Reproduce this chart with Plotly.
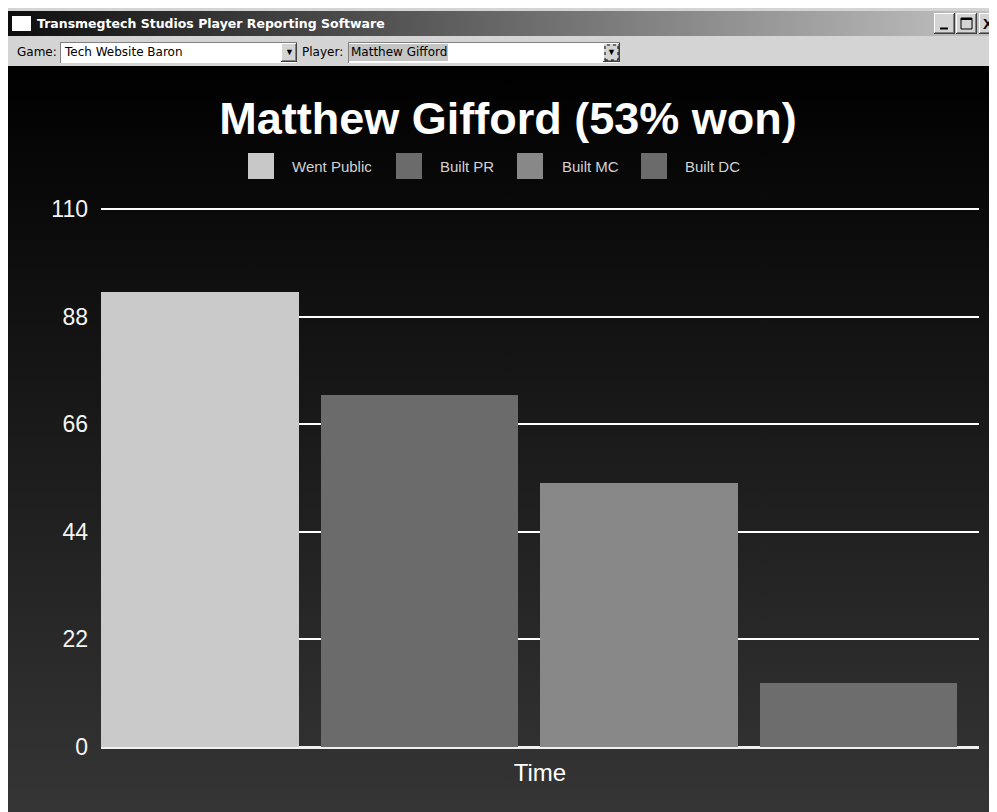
import base64
import plotly.graph_objects as go

# ---------------- data ----------------
categories = ["Went Public", "Built PR", "Built MC", "Built DC"]
values = [93, 72, 54, 13]
y_ticks = [0, 22, 44, 66, 88, 110]
chart_title = "Matthew Gifford (53% won)"
x_title = "Time"
window_title = "Transmegtech Studios Player Reporting Software"
game_name = "Tech Website Baron"
player_name = "Matthew Gifford"

# ---------------- styles ----------------
bar_colors = ["#cacaca", "#6b6b6b", "#888888", "#6d6d6d"]
OFF = 8  # the page body margin offsets the figure by 8px
FW, FH = 997 - OFF, 812 - OFF
Y_MAX = 110.4                      # a little headroom so the 110 gridline is drawn
L, R, T, B = 101, 979, 207, 747    # plot area in screen pixels
W, H = R - L, B - T
FONT = "Liberation Sans, Arial, sans-serif"
UI_FONT = "DejaVu Sans, Verdana, sans-serif"


def px(x):
    return (x - L) / W


def py(y):
    return (B - y) / H


def svg_uri(svg):
    return "data:image/svg+xml;base64," + base64.b64encode(svg.encode()).decode()


def grad_svg(w, h, c0, c1, vertical=True):
    x2, y2 = ("0", "1") if vertical else ("1", "0")
    return svg_uri(
        f'<svg xmlns="http://www.w3.org/2000/svg" width="{w}" height="{h}" '
        f'viewBox="0 0 {w} {h}" preserveAspectRatio="none"><defs>'
        f'<linearGradient id="g" x1="0" y1="0" x2="{x2}" y2="{y2}">'
        f'<stop offset="0" stop-color="{c0}"/><stop offset="1" stop-color="{c1}"/>'
        f'</linearGradient></defs><rect width="{w}" height="{h}" fill="url(#g)"/></svg>'
    )


fig = go.Figure()
fig.add_trace(
    go.Bar(
        x=categories,
        y=values,
        marker=dict(color=bar_colors, line=dict(width=0)),
        width=0.902,
        showlegend=False,
        hoverinfo="x+y",
    )
)

shapes = []
annotations = []
images = []


def rect(x0, y0, x1, y1, fill, line=None, lw=0, layer="above", dash=None):
    ln = dict(color=line or fill, width=lw)
    if dash:
        ln["dash"] = dash
    shapes.append(
        dict(
            type="rect", xref="paper", yref="paper",
            x0=px(x0), x1=px(x1), y0=py(y1), y1=py(y0),
            fillcolor=fill, line=ln, layer=layer,
        )
    )


def hline(x0, x1, y, color, w=1):
    shapes.append(dict(type="line", xref="paper", yref="paper",
                       x0=px(x0), x1=px(x1), y0=py(y), y1=py(y),
                       line=dict(color=color, width=w)))


def vline(x, y0, y1, color, w=1):
    shapes.append(dict(type="line", xref="paper", yref="paper",
                       x0=px(x), x1=px(x), y0=py(y0), y1=py(y1),
                       line=dict(color=color, width=w)))


def text(x, y, s, size, color, anchor="left", bold=False, family=FONT):
    annotations.append(
        dict(
            xref="paper", yref="paper", x=px(x), y=py(y), text=s, showarrow=False,
            xanchor=anchor, yanchor="middle",
            font=dict(family=family, size=size, color=color, weight=700 if bold else 400),
        )
    )


def bevel_button(x0, y0, x1, y1):
    rect(x0, y0, x1, y1, "#d4d4d4")
    hline(x0, x1, y0 + 0.5, "#ffffff")
    vline(x0 + 0.5, y0, y1, "#ffffff")
    hline(x0, x1, y1 - 0.5, "#404040")
    vline(x1 - 0.5, y0, y1, "#404040")
    hline(x0 + 1, x1 - 1, y1 - 1.5, "#808080")
    vline(x1 - 1.5, y0 + 1, y1 - 1, "#808080")


# ---------------- window chrome ----------------
rect(8, 8, 997, 11, "#d4d4d4")
images.append(dict(source=grad_svg(990, 25, "#0e0e0e", "#c2c2c2", vertical=False),
                   xref="paper", yref="paper", x=px(8), y=py(11),
                   sizex=989 / W, sizey=25 / H, xanchor="left", yanchor="top",
                   sizing="stretch", layer="above"))
rect(12, 16, 31, 31, "#ffffff")
text(35, 23.5, window_title, 12.5, "#ffffff", bold=True, family=UI_FONT)
# caption buttons
bevel_button(934, 13, 955, 34)
bevel_button(956, 13, 977, 34)
bevel_button(979, 13, 1000, 34)
hline(940, 948, 28.5, "#000000", 2)
rect(961, 18, 972, 29, "rgba(0,0,0,0)", "#000000", 1)
hline(961, 972, 19, "#000000", 2)
text(988, 23.5, "X", 15, "#000000", anchor="center", bold=True)

# toolbar
rect(8, 36, 997, 66, "#d4d4d4")
text(15, 52, "Game:", 12, "#000000", family=UI_FONT)
rect(60, 42, 297, 63, "#ffffff")
hline(60, 297, 42.5, "#808080")
vline(60.5, 42, 63, "#808080")
text(62, 52, game_name, 12, "#000000", family=UI_FONT)
bevel_button(281, 43, 297, 62)
text(289, 52.5, "▼", 9, "#000000", anchor="center")
text(300, 52, "Player:", 12, "#000000", family=UI_FONT)
rect(348, 42, 620, 63, "#ffffff")
hline(348, 620, 42.5, "#808080")
vline(348.5, 42, 63, "#808080")
rect(349, 44, 448, 61, "#c4c4c4")
text(349, 52, player_name, 12, "#000000", family=UI_FONT)
bevel_button(603, 43, 620, 62)
rect(605, 45, 618, 60, "rgba(0,0,0,0)", "#000000", 1, dash="dot")
text(611.5, 52.5, "▼", 9, "#000000", anchor="center")

# chart background gradient
images.append(dict(source=grad_svg(989, 746, "#000000", "#353535"),
                   xref="paper", yref="paper", x=px(8), y=py(66),
                   sizex=989 / W, sizey=746 / H, xanchor="left", yanchor="top",
                   sizing="stretch", layer="below"))

# custom legend (large swatches)
legend_sq_x = [248, 396, 517, 641]
legend_tx_x = [290, 438, 560, 683]
legend_colors = ["#c8c8c8", "#6b6b6b", "#888888", "#6b6b6b"]
for name, sx, tx, c in zip(categories, legend_sq_x, legend_tx_x, legend_colors):
    rect(sx, 153, sx + 26, 179, c)
    text(tx, 166.5, name, 15, "#d2d2d2")

fig.update_layout(
    width=FW,
    height=FH,
    margin=dict(l=L - OFF, r=FW - (R - OFF), t=T - OFF, b=FH - (B - OFF), pad=0),
    paper_bgcolor="#ffffff",
    plot_bgcolor="rgba(0,0,0,0)",
    title=dict(
        text=chart_title, x=(508 - OFF) / FW, xanchor="center", xref="container",
        y=1 - (118 - OFF) / FH, yanchor="middle", yref="container",
        font=dict(family=FONT, size=45, color="#ffffff", weight=700),
    ),
    xaxis=dict(
        type="category",
        categoryorder="array",
        categoryarray=categories,
        range=[-0.451, 3.549],
        showticklabels=False,
        showgrid=False,
        zeroline=False,
        showline=False,
        ticks="",
        title=dict(text=x_title, font=dict(family=FONT, size=24, color="#ffffff"), standoff=17),
        fixedrange=True,
    ),
    yaxis=dict(
        range=[0, Y_MAX],
        tickvals=y_ticks,
        ticktext=[str(v) for v in y_ticks],
        tickfont=dict(family=FONT, size=23, color="#f4f4f4"),
        ticks="",
        ticklabelstandoff=12,
        showgrid=True,
        gridcolor="#ffffff",
        gridwidth=2,
        zeroline=True,
        zerolinecolor="#f0f0f0",
        zerolinewidth=3,
        showline=False,
        fixedrange=True,
    ),
    shapes=shapes,
    annotations=annotations,
    images=images,
    showlegend=False,
    bargap=0,
)

fig.write_html("out.html")
